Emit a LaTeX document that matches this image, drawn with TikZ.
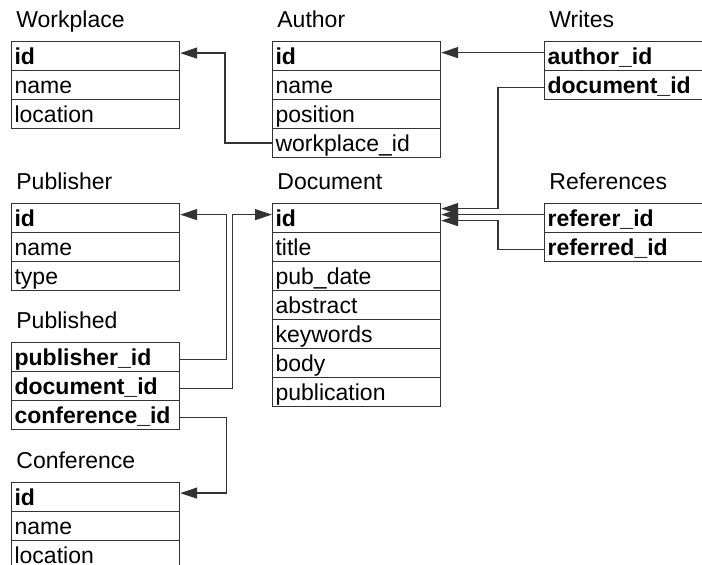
\documentclass[tikz,border=0pt]{standalone}
\usepackage{fontspec}
\setmainfont{Liberation Sans}
\usetikzlibrary{arrows.meta}

\tikzset{
  field/.style={draw=black!80,line width=0.6pt,anchor=north west,
    text width=81pt,inner xsep=1.5pt,inner ysep=0pt,align=left,
    minimum height=14.5pt,text height=8pt,text depth=0pt},
  title/.style={anchor=base west,xshift=2.5pt,yshift=6.5pt,inner sep=0pt},
  fk/.style={draw=black!80,line width=0.6pt,-{Triangle[length=8.5pt,width=5.5pt]}}
}

\begin{document}
\begin{tikzpicture}[x=0.5pt,y=-0.5pt,font=\fontsize{11.5}{13}\selectfont]
  \clip (0,0) rectangle (702,565);
  % table names
  \foreach \t/\x/\y/\l in
    {wp/11/41/Workplace,
     au/272/41/Author,
     wr/544/41/Writes,
     pub/11/203/Publisher,
     doc/272/203/Document,
     ref/544/203/References,
     pd/11/342/Published,
     cf/11/482/Conference} {
    \node[title] (\t-t) at (\x,\y) {\l};
  }
  % rows
  \foreach \f [count=\i] in {\textbf{id},name,location}
    \node[field] (wp-\i) at (11,12+29*\i) {\f};
  \foreach \f [count=\i] in {\textbf{id},name,position,workplace\_id}
    \node[field] (au-\i) at (272,12+29*\i) {\f};
  \foreach \f [count=\i] in {\textbf{author\_id},\textbf{document\_id}}
    \node[field] (wr-\i) at (544,12+29*\i) {\f};
  \foreach \f [count=\i] in {\textbf{id},name,type}
    \node[field] (pub-\i) at (11,174+29*\i) {\f};
  \foreach \f [count=\i] in {\textbf{id},title,pub\_date,abstract,keywords,body,publication}
    \node[field] (doc-\i) at (272,174+29*\i) {\f};
  \foreach \f [count=\i] in {\textbf{referer\_id},\textbf{referred\_id}}
    \node[field] (ref-\i) at (544,174+29*\i) {\f};
  \foreach \f [count=\i] in {\textbf{publisher\_id},\textbf{document\_id},\textbf{conference\_id}}
    \node[field] (pd-\i) at (11,313+29*\i) {\f};
  \foreach \f [count=\i] in {\textbf{id},name,location}
    \node[field] (cf-\i) at (11,453+29*\i) {\f};

  % foreign keys
  \draw[fk] (au-4.west) -- ++(-47,0) |- ([yshift=1.5pt]wp-1.east);
  \draw[fk] ([yshift=1.75pt]wr-1.west) -- ([yshift=1.75pt]au-1.east);
  \draw[fk] ([yshift=-1.25pt]wr-2.west) -- ++(-46,0) |- ([yshift=4.75pt]doc-1.east);
  \draw[fk] ([yshift=1.75pt]ref-1.west) -- ([yshift=1.75pt]doc-1.east);
  \draw[fk] ([yshift=-1.25pt]ref-2.west) -- ++(-46,0) |- ([yshift=-1.25pt]doc-1.east);
  \draw[fk] ([yshift=-1.25pt]pd-1.east) -- ++(46,0) |- ([yshift=1.75pt]pub-1.east);
  \draw[fk] ([yshift=-1.25pt]pd-2.east) -- ++(52,0) |- ([yshift=1.75pt]doc-1.west);
  \draw[fk] ([yshift=-1.25pt]pd-3.east) -- ++(46,0) |- ([yshift=2pt]cf-1.east);
\end{tikzpicture}
\end{document}
